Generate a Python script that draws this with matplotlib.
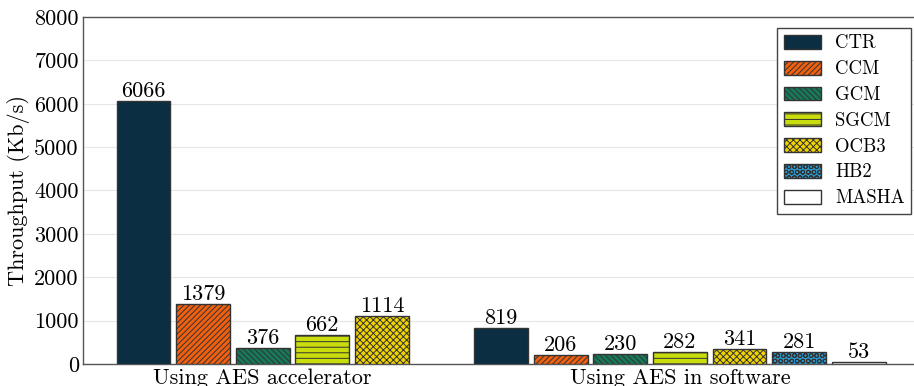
import numpy as np
import matplotlib.pyplot as plt

plt.rcParams['font.family'] = ['cmr10', 'DejaVu Serif']
plt.rcParams['mathtext.fontset'] = 'cm'
plt.rcParams['axes.formatter.use_mathtext'] = True
plt.rcParams['hatch.linewidth'] = 0.7

groups = ['Using AES accelerator', 'Using AES in software']
modes = ['CTR', 'CCM', 'GCM', 'SGCM', 'OCB3', 'HB2', 'MASHA']
accel = [6066, 1379, 376, 662, 1114, None, None]
soft = [819, 206, 230, 282, 341, 281, 53]

colors = ['#0c2e42', '#f0600f', '#17785a', '#c9dc0c', '#f0d400', '#2a9bd0', '#ffffff']
hatches = ['', '//////', '\\\\\\\\\\\\', '---', 'xxxxx', 'OOO', '']


def plot_data():
    fig = plt.figure(figsize=(9.14, 3.86), dpi=100)
    ax = fig.add_axes([83 / 914, 22 / 386, 852 / 914, 347 / 386])

    # group starts and tick positions (in bar units)
    starts = [0, 6]
    tick_pos = [2, 9]
    for gi, vals in enumerate([accel, soft]):
        for i, v in enumerate(vals):
            if v is None:
                continue
            b = ax.bar(starts[gi] + i, v, width=0.9, color=colors[i],
                       hatch=hatches[i], edgecolor='#333333', lw=1.0,
                       label=modes[i] if gi == 1 else None, zorder=3)
            ax.bar_label(b, labels=[str(v)], padding=0, fontsize=16)

    ax.set_xlim(-1.015, 13.28)
    ax.set_ylim(0, 8000)
    ax.set_yticks(np.arange(0, 8001, 1000))
    ax.set_yticklabels([str(t) for t in range(0, 8001, 1000)], fontsize=16)
    ax.set_xticks(tick_pos)
    ax.set_xticklabels(groups, fontsize=16)
    ax.tick_params(length=0, pad=3)
    ax.set_ylabel('Throughput (Kb/s)', fontsize=16, labelpad=3)
    ax.yaxis.grid(True, color='#e6e6e6', lw=0.8, zorder=0)
    ax.set_axisbelow(True)
    for s in ax.spines.values():
        s.set_color('#555555')
        s.set_linewidth(1.0)

    leg = ax.legend(loc='upper left', bbox_to_anchor=((777 - 83) / 852, 1 - 11 / 347),
                    fontsize=13.5, handlelength=2.0, handleheight=0.75,
                    labelspacing=0.42, borderpad=0.35, handletextpad=0.75,
                    borderaxespad=0, fancybox=False,
                    edgecolor='#444444', framealpha=1)
    leg.get_frame().set_linewidth(1.0)

    plt.savefig('out.png', dpi=100)


def main():
    plot_data()


if __name__ == '__main__':
    main()
